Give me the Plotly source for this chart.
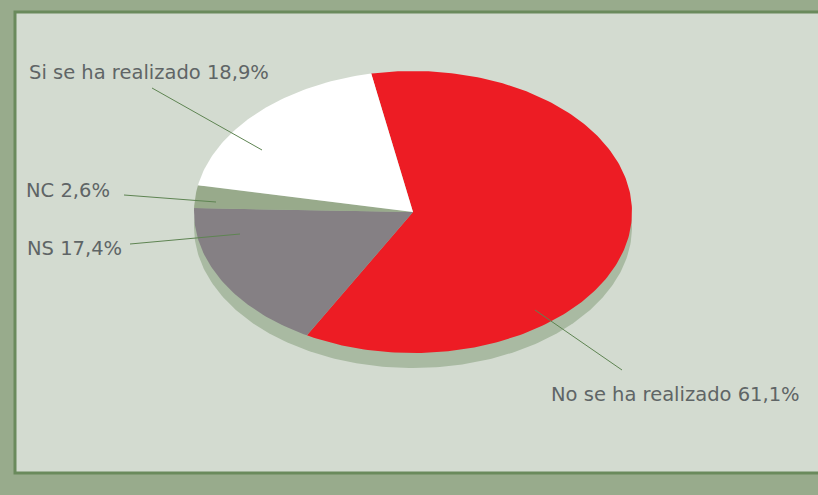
import numpy as np
import plotly.graph_objects as go

# data
categories = ["No se ha realizado", "NS", "NC", "Si se ha realizado"]
shares = [61.1, 17.4, 2.6, 18.9]
pct_labels = ["61,1%", "17,4%", "2,6%", "18,9%"]
colors = ["#ED1C24", "#858084", "#98AA8B", "#FFFFFF"]

# geometry of the ellipse (pixel coords, y down)
cx, cy = 413, 212
rx, ry = 219, 141
start = -11.0  # degrees clockwise from 12 o'clock
shadow_dy = 15

# label placement: (text x, text y, anchor, line from, line to)
label_pos = [
    (549, 394, "left", (622, 370), (535, 310)),
    (25, 248, "left", (130, 244), (240, 234)),
    (24, 190, "left", (124, 195), (216, 202)),
    (27, 72, "left", (152, 88), (262, 150)),
]


def ell(a_deg, dy=0):
    a = np.radians(a_deg)
    return cx + rx * np.sin(a), cy + dy - ry * np.cos(a)


fig = go.Figure()

# shadow / side
t = np.linspace(0, 360, 361)
sx, sy = ell(t, shadow_dy)
fig.add_trace(go.Scatter(x=sx, y=sy, fill="toself", mode="lines",
                         line=dict(width=0), fillcolor="#A9BAA2",
                         hoverinfo="skip", showlegend=False))

a0 = start
for name, s, c in zip(categories, shares, colors):
    a1 = a0 + s * 3.6
    arc = np.linspace(a0, a1, max(int(abs(a1 - a0)), 2) + 1)
    px_, py_ = ell(arc)
    xs = np.concatenate([[cx], px_, [cx]])
    ys = np.concatenate([[cy], py_, [cy]])
    fig.add_trace(go.Scatter(x=xs, y=ys, fill="toself", mode="lines",
                             line=dict(width=0), fillcolor=c, name=name,
                             hoverinfo="name", showlegend=False))
    a0 = a1

for name, pl, (tx, ty, anc, p0, p1) in zip(categories, pct_labels, label_pos):
    fig.add_shape(type="line", x0=p0[0], y0=p0[1], x1=p1[0], y1=p1[1],
                  line=dict(color="#5E8452", width=1))
    fig.add_annotation(x=tx, y=ty, text=f"{name} {pl}", showarrow=False,
                       xanchor=anc, yanchor="middle",
                       font=dict(family="Verdana, 'DejaVu Sans', sans-serif",
                                 size=19.5, color="#5F6566"))

# inner panel
fig.add_shape(type="rect", x0=15, y0=12, x1=830, y1=473, layer="below",
              fillcolor="#D3DBD0", line=dict(color="#6A8A5C", width=3))

fig.update_layout(
    width=818, height=495,
    margin=dict(l=0, r=0, t=0, b=0),
    paper_bgcolor="#98AB8C", plot_bgcolor="rgba(0,0,0,0)",
    xaxis=dict(range=[0, 818], visible=False, fixedrange=True),
    yaxis=dict(range=[495, 0], visible=False, fixedrange=True),
)

fig.write_html("out.html", config={"displayModeBar": False},
               post_script="document.body.style.margin='0';")
